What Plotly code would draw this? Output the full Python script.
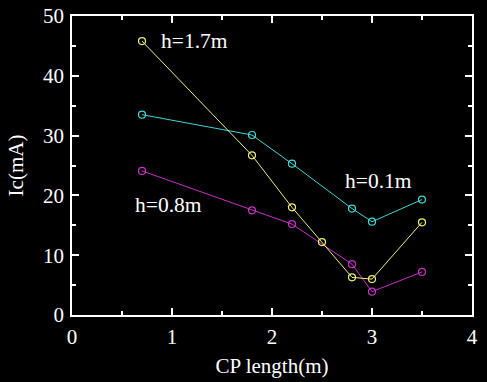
import plotly.graph_objects as go

x_cyan = [0.7, 1.8, 2.2, 2.8, 3.0, 3.5]
y_cyan = [33.5, 30.1, 25.3, 17.8, 15.6, 19.3]

x_magenta = [0.7, 1.8, 2.2, 2.8, 3.0, 3.5]
y_magenta = [24.1, 17.5, 15.2, 8.5, 3.9, 7.2]

x_yellow = [0.7, 1.8, 2.2, 2.5, 2.8, 3.0, 3.5]
y_yellow = [45.8, 26.7, 18.0, 12.2, 6.3, 6.0, 15.5]

labels = ["h=0.1m", "h=0.8m", "h=1.7m"]
label_x = [3.06, 0.96, 1.22]
label_y = [22.4, 18.4, 45.9]

x_ticks = [0, 1, 2, 3, 4]
y_ticks = [0, 10, 20, 30, 40, 50]

FONT = "Liberation Serif, Times New Roman, serif"

fig = go.Figure()
for xs, ys, col in [(x_cyan, y_cyan, "#40d8d8"),
                    (x_magenta, y_magenta, "#c832c8"),
                    (x_yellow, y_yellow, "#f0f07a")]:
    fig.add_trace(go.Scatter(
        x=xs, y=ys, mode="lines+markers",
        line=dict(color=col, width=1),
        marker=dict(symbol="circle-open", size=7, color=col, line=dict(width=1.2)),
        showlegend=False, cliponaxis=False, hoverinfo="skip"))

for t, lx, ly in zip(labels, label_x, label_y):
    fig.add_annotation(x=lx, y=ly, text=t, showarrow=False,
                       font=dict(family=FONT, size=21.5, color="white"))

axis_common = dict(
    showline=True, linecolor="white", linewidth=1.5, mirror="ticks",
    ticks="inside", ticklen=7, tickwidth=1.5, tickcolor="white",
    showgrid=False, zeroline=False, automargin=False,
    tickfont=dict(family=FONT, size=21, color="white"),
)

fig.update_xaxes(range=[0, 4], tickvals=x_ticks, ticktext=[str(v) for v in x_ticks],
                 minor=dict(ticks="inside", ticklen=4, tickwidth=1.5, tickcolor="white", dtick=0.5, showgrid=False),
                 title=dict(text="CP length(m)", font=dict(family=FONT, size=21, color="white"), standoff=10),
                 ticklabelstandoff=2,
                 **axis_common)
fig.update_yaxes(range=[0, 50], tickvals=y_ticks, ticktext=[str(v) for v in y_ticks],
                 minor=dict(ticks="inside", ticklen=4, tickwidth=1.5, tickcolor="white", dtick=5, showgrid=False),
                 title=dict(text="Ic(mA)", font=dict(family=FONT, size=21, color="white"), standoff=14),
                 ticklabelstandoff=2,
                 **axis_common)

fig.update_layout(
    width=487, height=382,
    paper_bgcolor="black", plot_bgcolor="black",
    margin=dict(l=72, r=15, t=16, b=67),
)

fig.write_html("out.html", config={"displayModeBar": False},
               post_script="document.body.style.margin='0';document.body.style.background='black';")
